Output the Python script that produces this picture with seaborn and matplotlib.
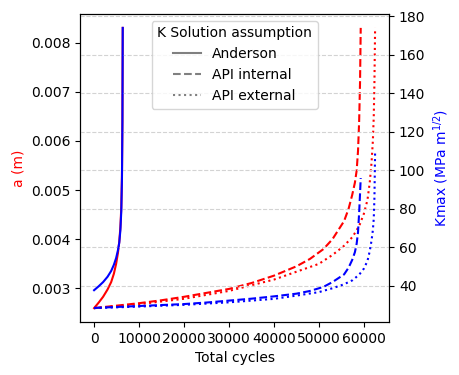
"""Crack length and Kmax against total cycles for three K solution assumptions."""
import matplotlib
matplotlib.use("Agg")
import matplotlib.pyplot as plt
from matplotlib.lines import Line2D
import seaborn as sns
import pandas as pd

# %%
# Values
anderson_cycles = [0, 1000, 2000, 3000, 3800, 4400, 4900, 5300, 5600, 5850, 6050, 6200, 6300, 6370]
anderson_a = [0.00260, 0.00271, 0.00283, 0.00298, 0.00313, 0.00330, 0.00350, 0.00372, 0.00395,
              0.00425, 0.00465, 0.00530, 0.00640, 0.00830]
anderson_kmax = [37.8, 39.8, 42.0, 44.8, 47.8, 51.0, 54.5, 58.5, 62.5, 69.0, 79.0, 96.0, 125.0, 174.0]

internal_cycles = [0, 5000, 10000, 15000, 20000, 25000, 30000, 35000, 40000, 45000, 48000, 51000,
                   53000, 55600, 56600, 57400, 58000, 58400, 58700, 58950, 59150, 59300]
internal_a = [0.00260, 0.00265, 0.00270, 0.00276, 0.00283, 0.00291, 0.00299, 0.00311, 0.00326,
              0.00345, 0.00360, 0.00380, 0.00400, 0.00437, 0.00462, 0.00490, 0.00515, 0.00540,
              0.00580, 0.00640, 0.00720, 0.00830]
internal_kmax = [28.6, 29.1, 29.6, 30.1, 30.6, 31.4, 32.4, 33.4, 34.6, 36.0, 37.4, 39.5, 42.0, 46.0,
                 49.5, 53.5, 57.5, 62.0, 68.0, 78.0, 88.0, 96.0]

external_cycles = [0, 10000, 20000, 30000, 40000, 45000, 50000, 53000, 55500, 57500, 59000, 60000,
                   60800, 61300, 61700, 62000, 62200, 62350, 62500]
external_a = [0.00260, 0.00268, 0.00279, 0.00295, 0.00318, 0.00334, 0.00350, 0.00368, 0.00386,
              0.00405, 0.00428, 0.00452, 0.00480, 0.00515, 0.00555, 0.00600, 0.00650, 0.00720,
              0.00830]
external_kmax = [28.5, 29.3, 30.2, 31.5, 33.3, 35.0, 36.8, 38.8, 40.8, 43.0, 46.0, 49.0, 53.0, 58.0,
                 63.5, 69.0, 75.0, 86.0, 110.0]

methods = ['Anderson', 'API internal', 'API external']
styles = ['-', '--', ':']

# %%
frames = []
for name, cyc, a, k in [('Anderson', anderson_cycles, anderson_a, anderson_kmax),
                        ('API internal', internal_cycles, internal_a, internal_kmax),
                        ('API external', external_cycles, external_a, external_kmax)]:
    frames.append(pd.DataFrame({'cycles': cyc, 'a': a, 'kmax': k, 'method': name}))
df = pd.concat(frames, ignore_index=True)

# %%
fig = plt.figure(figsize=(4.6, 3.75), dpi=100)
ax = fig.add_axes([0.174, 0.141, 0.672, 0.822])
ax2 = ax.twinx()

for method, ls in zip(methods, styles):
    sub = df[df['method'] == method]
    sns.lineplot(data=sub, x='cycles', y='a', ax=ax, color='red', linestyle=ls,
                 linewidth=1.5, sort=False, estimator=None)
    sns.lineplot(data=sub, x='cycles', y='kmax', ax=ax2, color='blue', linestyle=ls,
                 linewidth=1.5, sort=False, estimator=None)

ax2.yaxis.grid(True, linestyle='--', color='lightgray', linewidth=0.8)
ax.set_xlabel('Total cycles')
ax.set_ylabel('a (m)', color='red')
ax2.set_ylabel('Kmax (MPa m$^{1/2}$)', color='blue')

handles = [Line2D([], [], color='gray', linestyle=ls) for ls in styles]
ax2.legend(handles, methods, title='K Solution assumption', loc='upper center')

plt.savefig('out.png')
